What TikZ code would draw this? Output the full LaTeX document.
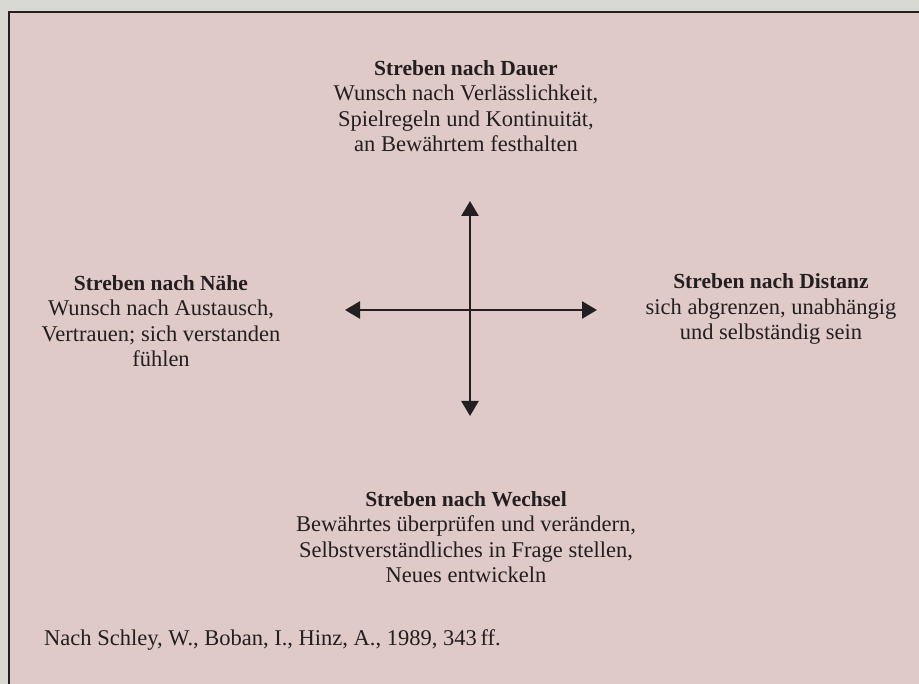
\documentclass[tikz,border=0pt]{standalone}
\usepackage{fontspec}
\setmainfont{Liberation Serif}
\usetikzlibrary{arrows.meta, positioning}
\definecolor{papier}{RGB}{215,217,210}
\definecolor{rosa}{RGB}{223,202,200}
\definecolor{tinte}{RGB}{35,30,31}
\newcommand{\kopf}[1]{{\fontsize{21.5}{25.5}\selectfont\bfseries #1}}

\tikzset{
  lbl/.style={align=center, inner sep=0pt, text=tinte,
              font=\fontsize{22.5}{25.5}\selectfont},
  achse/.style={line width=2.5pt, draw=tinte,
                {Triangle[length=15pt,width=17pt]}-{Triangle[length=15pt,width=17pt]}}
}

\begin{document}
\begin{tikzpicture}[x=1pt,y=-1pt]
  \useasboundingbox (0,0) rectangle (919,684);
  % paper and frame
  \fill[papier] (0,0) rectangle (919,684);
  \filldraw[fill=rosa, draw=tinte, line width=1.8pt] (9,12) rectangle (935,700);

  % the four directions
  \node[lbl] (dauer) at (466,106)
    {\kopf{Streben nach Dauer}\\ Wunsch nach Verlässlichkeit,\\
     Spielregeln und Kontinuität,\\ an Bewährtem festhalten};
  \node[lbl] (naehe) at (161,321)
    {\kopf{Streben nach Nähe}\\ Wunsch nach Austausch,\\
     Vertrauen; sich verstanden\\ fühlen};
  \node[lbl] (distanz) at (771,309)
    {\kopf{Streben nach Distanz}\\ sich abgrenzen, unabhängig\\
     und selbständig sein};
  \node[lbl] (wechsel) at (466,537)
    {\kopf{Streben nach Wechsel}\\ Bewährtes überprüfen und verändern,\\
     Selbstverständliches in Frage stellen,\\ Neues entwickeln};

  % cross
  \coordinate (oben) at (470,201);
  \coordinate (unten) at (470,416);
  \coordinate (links) at (345,310);
  \coordinate (rechts) at (597,310);
  \draw[achse] (unten) -- (oben);
  \draw[achse] (links) -- (rechts);

  % source
  \node[lbl, anchor=west] (quelle) at (44,640)
    {Nach Schley, W., Boban, I., Hinz, A., 1989, 343\,ff.};
\end{tikzpicture}
\end{document}
